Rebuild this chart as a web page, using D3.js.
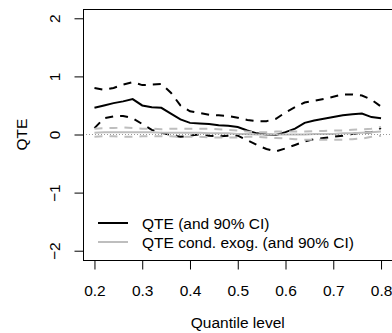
<!DOCTYPE html>
<meta charset="utf-8">
<head>
    <script src="https://d3js.org/d3.v7.min.js"></script>
    <style>
    body { margin: 0; background: #fff; }
    text { font-family: "Liberation Sans", Arial, sans-serif; font-size: 15.5px; fill: #000; }
    </style>
</head>
<body>
<script>
// quantile grid and estimates
var quantiles = [0.20,0.22,0.24,0.26,0.28,0.30,0.32,0.34,0.36,0.38,0.40,0.42,0.44,0.46,0.48,0.50,
                 0.52,0.54,0.56,0.58,0.60,0.62,0.64,0.66,0.68,0.70,0.72,0.74,0.76,0.78,0.80];
var qte    = [0.46,0.50,0.54,0.57,0.61,0.50,0.47,0.46,0.36,0.26,0.20,0.19,0.18,0.16,0.15,0.13,
              0.07,0.02,0.00,-0.01,0.04,0.10,0.20,0.24,0.27,0.30,0.33,0.35,0.36,0.30,0.28];
var qteHi  = [0.80,0.77,0.80,0.86,0.90,0.85,0.86,0.87,0.72,0.50,0.40,0.37,0.34,0.33,0.32,0.29,
              0.25,0.23,0.23,0.27,0.38,0.47,0.55,0.58,0.61,0.65,0.69,0.69,0.67,0.60,0.48];
var qteLo  = [0.11,0.28,0.31,0.32,0.28,0.18,0.08,0.03,-0.01,-0.04,-0.02,0.00,-0.02,-0.03,-0.02,-0.02,
              -0.10,-0.18,-0.25,-0.29,-0.24,-0.18,-0.12,-0.08,-0.06,-0.04,-0.02,0.01,0.03,0.04,0.11];
var exo    = [0.03,0.04,0.04,0.04,0.04,0.04,0.04,0.03,0.03,0.03,0.03,0.03,0.02,0.02,0.02,0.01,
              0.01,0.00,0.00,0.00,0.00,0.00,0.00,0.01,0.01,0.01,0.02,0.02,0.03,0.04,0.05];
var exoHi  = [0.10,0.11,0.11,0.12,0.11,0.10,0.10,0.09,0.10,0.10,0.10,0.10,0.10,0.09,0.08,0.07,
              0.05,0.04,0.04,0.05,0.05,0.05,0.05,0.06,0.06,0.07,0.07,0.08,0.09,0.10,0.13];
var exoLo  = [-0.04,-0.03,-0.03,-0.04,-0.04,-0.03,-0.03,-0.03,-0.03,-0.04,-0.04,-0.04,-0.05,-0.05,-0.05,-0.05,
              -0.04,-0.04,-0.05,-0.06,-0.07,-0.08,-0.09,-0.09,-0.09,-0.09,-0.09,-0.08,-0.07,-0.04,-0.02];
var xTicks = [0.2,0.3,0.4,0.5,0.6,0.7,0.8];
var yTicks = [-2,-1,0,1,2];
var legendLabels = ["QTE (and 90% CI)", "QTE cond. exog. (and 90% CI)"];

var width = 392, height = 333;
var plot = { left: 83, right: 392.5, top: 9, bottom: 260 };
var fontSize = "15.5px";

var x = d3.scaleLinear().domain([0.176, 0.824]).range([plot.left, plot.right]);
var y = d3.scaleLinear().domain([-2.16, 2.16]).range([plot.bottom, plot.top]);

var svg = d3.select("body").append("svg")
    .attr("width", width)
    .attr("height", height);

// clip for the plot region
svg.append("clipPath").attr("id", "clip")
    .append("rect")
    .attr("x", plot.left).attr("y", plot.top)
    .attr("width", plot.right - plot.left).attr("height", plot.bottom - plot.top);

var g = svg.append("g").attr("clip-path", "url(#clip)");

function drawLine(vals, color, dash) {
    var line = d3.line()
        .x(function(d, i) { return x(quantiles[i]); })
        .y(function(d) { return y(d); });
    g.append("path")
        .datum(vals)
        .attr("d", line)
        .attr("fill", "none")
        .attr("stroke", color)
        .attr("stroke-width", 2)
        .attr("stroke-dasharray", dash ? "8,7" : null);
}

drawLine(qte, "#000", false);
drawLine(qteHi, "#000", true);
drawLine(qteLo, "#000", true);
drawLine(exo, "#bebebe", false);
drawLine(exoHi, "#bebebe", true);
drawLine(exoLo, "#bebebe", true);

// zero reference line
g.append("line")
    .attr("x1", plot.left).attr("x2", plot.right)
    .attr("y1", y(0)).attr("y2", y(0))
    .attr("stroke", "#999")
    .attr("stroke-width", 1)
    .attr("stroke-dasharray", "1,2");

// box
svg.append("rect")
    .attr("x", plot.left + 0.5).attr("y", plot.top + 0.5)
    .attr("width", plot.right - plot.left).attr("height", plot.bottom - plot.top)
    .attr("fill", "none")
    .attr("stroke", "#000");

// x axis
var xAxis = svg.append("g")
    .attr("transform", "translate(0," + (plot.bottom + 0.5) + ")")
    .call(d3.axisBottom(x).tickValues(xTicks).tickSize(9).tickPadding(15)
        .tickFormat(d3.format(".1f")));
xAxis.select(".domain").remove();
xAxis.selectAll("line").attr("stroke", "#000");
xAxis.selectAll("text").style("font-size", fontSize).style("font-family", "Liberation Sans, Arial, sans-serif");

// y axis
var yAxis = svg.append("g")
    .attr("transform", "translate(" + (plot.left + 0.5) + ",0)")
    .call(d3.axisLeft(y).tickValues(yTicks).tickSize(9)
        .tickFormat(function(d) { return d < 0 ? "\u2212" + Math.abs(d) : d; }));
yAxis.select(".domain").remove();
yAxis.selectAll("line").attr("stroke", "#000");
yAxis.selectAll("text")
    .style("font-size", fontSize).style("font-family", "Liberation Sans, Arial, sans-serif")
    .attr("x", 0).attr("dy", null)
    .attr("text-anchor", "middle")
    .attr("transform", "translate(-28,0) rotate(-90)")
    .attr("y", 4);

// axis titles
svg.append("text")
    .attr("x", (plot.left + plot.right) / 2)
    .attr("y", 328)
    .attr("text-anchor", "middle")
    .text("Quantile level");
svg.append("text")
    .attr("transform", "translate(27," + ((plot.top + plot.bottom) / 2) + ") rotate(-90)")
    .attr("text-anchor", "middle")
    .text("QTE");

// legend
var legend = svg.append("g");
[["#000", 223], ["#bebebe", 242]].forEach(function(item, i) {
    legend.append("line")
        .attr("x1", 98).attr("x2", 128)
        .attr("y1", item[1]).attr("y2", item[1])
        .attr("stroke", item[0]).attr("stroke-width", 2);
    legend.append("text")
        .attr("x", 142).attr("y", item[1] + 5.5)
        .text(legendLabels[i]);
});
</script>
</body>
</html>
